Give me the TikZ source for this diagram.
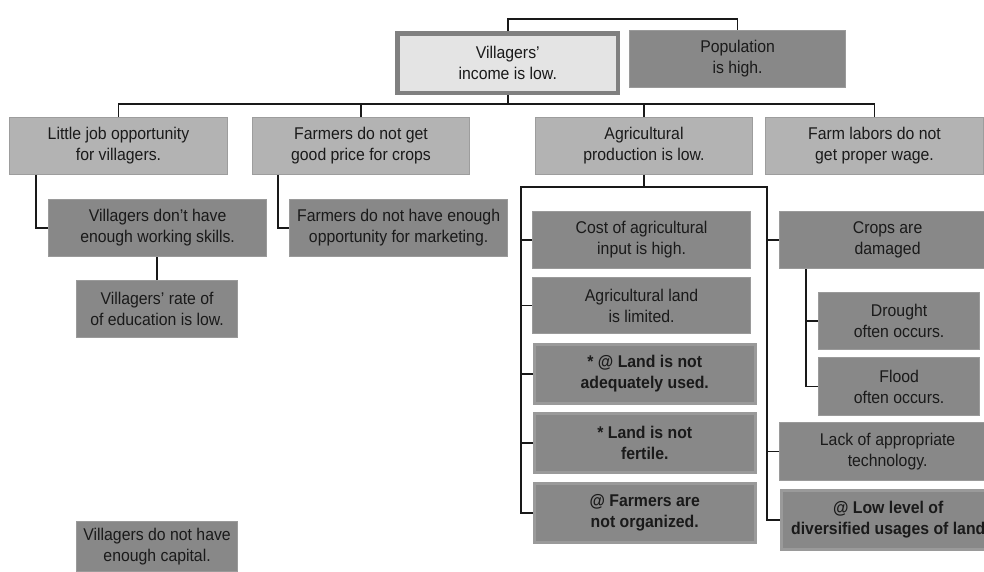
\documentclass[tikz,border=0pt]{standalone}
\usepackage{fontspec}
\setmainfont{Liberation Sans}[FakeStretch=0.93]
\usetikzlibrary{calc}
\definecolor{lightfill}{HTML}{B3B3B3}
\definecolor{lightedge}{HTML}{9D9D9D}
\definecolor{darkfill}{HTML}{888888}
\definecolor{darkedge}{HTML}{9A9A9A}
\definecolor{topfill}{HTML}{E4E4E4}
\definecolor{topedge}{HTML}{808080}
\definecolor{inktext}{HTML}{1A1A1A}
\tikzset{
  box/.style={rectangle, inner sep=0pt, align=center, text=inktext,
    font=\fontsize{17}{21}\selectfont},
  toplevel/.style={box, fill=topfill, draw=topedge, line width=4.5pt},
  causebox/.style={box, fill=lightfill, draw=lightedge, line width=1pt},
  rootbox/.style={box, fill=darkfill, draw=darkedge, line width=1.2pt},
  keybox/.style={box, fill=darkfill, draw=darkedge, line width=2.5pt,
    font=\fontsize{17}{21}\selectfont\bfseries},
  link/.style={draw=black!90, line width=1.6pt}
}
% place a box by its upper-left corner, width and height (image units)
\newcommand{\boxat}[6]{\node[#1, anchor=north west, minimum width=#4, minimum height=#5] (#2) at (#3) {#6};}
\begin{document}
\begin{tikzpicture}[x=1pt, y=-1pt]
\useasboundingbox (0,0) rectangle (984,572);

% main problem and its companion
\boxat{toplevel}{vil}{395.25,31.25}{220.5}{59.5}{Villagers'\\income is low.}
\boxat{rootbox}{pop}{629,30}{216}{57}{Population\\is high.}

% direct causes
\boxat{causebox}{little}{9,117}{218}{57}{Little job opportunity\\for villagers.}
\boxat{causebox}{fprice}{252,117}{217}{57}{Farmers do not get\\good price for crops}
\boxat{causebox}{agri}{535,117}{217}{57}{Agricultural\\production is low.}
\boxat{causebox}{flabor}{765,117}{218}{57}{Farm labors do not\\get proper wage.}

% left branches
\boxat{rootbox}{skills}{48,199}{218}{57}{Villagers don't have\\enough working skills.}
\boxat{rootbox}{edu}{76,280}{161}{57}{Villagers' rate of\\of education is low.}
\boxat{rootbox}{market}{289,199}{218}{57}{Farmers do not have enough\\opportunity for marketing.}
\boxat{rootbox}{capital}{76,521}{161}{50}{Villagers do not have\\enough capital.}

% agricultural production: left column
\boxat{rootbox}{cost}{532,211}{218}{57}{Cost of agricultural\\input is high.}
\boxat{rootbox}{landlim}{532,277}{218}{56}{Agricultural land\\is limited.}
\boxat{keybox}{landuse}{533,343}{221}{59}{* @ Land is not\\adequately used.}
\boxat{keybox}{fertile}{533,412}{221}{59}{* Land is not\\fertile.}
\boxat{keybox}{organized}{533,482}{221}{59}{@ Farmers are\\not organized.}

% agricultural production: right column
\boxat{rootbox}{crops}{779,211}{216}{57}{Crops are\\damaged}
\boxat{rootbox}{drought}{818,292}{161}{57}{Drought\\often occurs.}
\boxat{rootbox}{flood}{818,357}{161}{58}{Flood\\often occurs.}
\boxat{rootbox}{tech}{779,422}{216}{58}{Lack of appropriate\\technology.}
\boxat{keybox}{lowlevel}{780,489}{214}{59}{@ Low level of\\diversified usages of land}

% top link between the two main boxes
\draw[link] (vil.north) -- ++(0,-12) -| (pop.north);

% bus under the main problem
\coordinate (bus) at (0,104);
\draw[link] (vil.south) -- (vil.south |- bus);
\draw[link] (little.north) -- (little.north |- bus) -- (flabor.north |- bus) -- (flabor.north);
\draw[link] (fprice.north) -- (fprice.north |- bus);
\draw[link] (agri.north) -- (agri.north |- bus);

% left branches
\draw[link] ($(little.south west)+(27,0)$) |- (skills.west);
\draw[link] (edu.north) -- (edu.north |- skills.south);
\draw[link] ($(fprice.south west)+(26,0)$) |- (market.west);

% bracket under agricultural production
\coordinate (lb) at (521,187);
\coordinate (rb) at (767,187);
\draw[link] (agri.south) -- (agri.south |- lb);
\draw[link] (organized.west) -| (lb) -- (rb) |- (lowlevel.west);
\foreach \n in {cost,landlim,landuse,fertile}
  \draw[link] (\n.west) -- (\n.west -| lb);
\foreach \n in {crops,tech}
  \draw[link] (\n.west) -- (\n.west -| rb);

% crop damage causes
\coordinate (cv) at ($(crops.south west)+(27,0)$);
\draw[link] (cv) |- (flood.west);
\draw[link] (drought.west) -- (drought.west -| cv);
\end{tikzpicture}
\end{document}
